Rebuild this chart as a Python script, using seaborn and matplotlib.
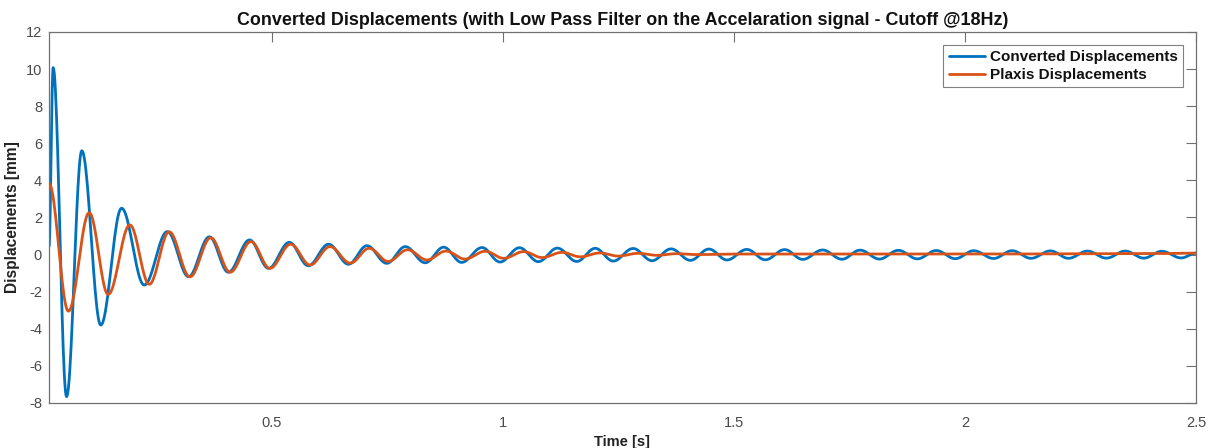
import numpy as np
import pandas as pd
import matplotlib
matplotlib.use("Agg")
import matplotlib.pyplot as plt
import seaborn as sns

# ---------------- data (extrema of each signal) ----------------
converted_t = [0.018, 0.027, 0.056, 0.089, 0.130, 0.175, 0.224, 0.274, 0.320, 0.365,
               0.406, 0.452, 0.493, 0.538, 0.579, 0.623, 0.666, 0.706, 0.749, 0.789,
               0.832, 0.872, 0.911, 0.955, 0.994, 1.036, 1.077, 1.118, 1.160, 1.200,
               1.239, 1.282, 1.323, 1.364, 1.406, 1.446, 1.485, 1.528, 1.568, 1.610,
               1.649, 1.692, 1.734, 1.773, 1.815, 1.856, 1.897, 1.938, 1.979, 2.019,
               2.062, 2.102, 2.143, 2.185, 2.224, 2.265, 2.306, 2.347, 2.387, 2.426,
               2.468, 2.500]
converted_v = [0.43, 10.08, -7.66, 5.60, -3.80, 2.50, -1.64, 1.24, -1.19, 0.96,
               -0.95, 0.79, -0.74, 0.66, -0.60, 0.56, -0.52, 0.48, -0.47, 0.43,
               -0.44, 0.40, -0.42, 0.38, -0.40, 0.37, -0.38, 0.35, -0.37, 0.34,
               -0.35, 0.33, -0.33, 0.31, -0.31, 0.30, -0.29, 0.28, -0.28, 0.27,
               -0.26, 0.25, -0.25, 0.24, -0.24, 0.23, -0.23, 0.22, -0.22, 0.21,
               -0.21, 0.21, -0.20, 0.20, -0.20, 0.19, -0.19, 0.19, -0.19, 0.18,
               -0.18, 0.08]

plaxis_t = [0.018, 0.060, 0.105, 0.146, 0.193, 0.235, 0.278, 0.323, 0.368, 0.410,
            0.455, 0.496, 0.541, 0.583, 0.626, 0.670, 0.711, 0.752, 0.794, 0.836,
            0.877, 0.918, 0.962, 1.002, 1.045, 1.085, 1.128, 1.168, 1.210, 1.250,
            1.293, 1.333, 1.376, 1.420, 1.500, 2.000, 2.400, 2.500]
plaxis_v = [3.84, -3.05, 2.26, -2.15, 1.60, -1.60, 1.23, -1.20, 0.91, -0.95,
            0.70, -0.74, 0.56, -0.56, 0.43, -0.46, 0.34, -0.37, 0.26, -0.29,
            0.19, -0.24, 0.18, -0.20, 0.16, -0.16, 0.12, -0.12, 0.09, -0.08,
            0.07, -0.04, 0.05, 0.00, 0.03, 0.03, 0.05, 0.08]

series_names = ["Converted Displacements", "Plaxis Displacements"]
x_ticks = [0.5, 1, 1.5, 2, 2.5]
x_tick_labels = ["0.5", "1", "1.5", "2", "2.5"]
y_ticks = [-8, -6, -4, -2, 0, 2, 4, 6, 8, 10, 12]
title = "Converted Displacements (with Low Pass Filter on the Accelaration signal - Cutoff @18Hz)"
x_label = "Time [s]"
y_label = "Displacements [mm]"


def smooth_between(ts, vs, n=24):
    """Render a smooth path through successive extrema (half-cosine shape per segment)."""
    out_t, out_v = [ts[0]], [vs[0]]
    for (t0, v0), (t1, v1) in zip(zip(ts[:-1], vs[:-1]), zip(ts[1:], vs[1:])):
        s = np.linspace(0, 1, n + 1)[1:]
        out_t.extend(t0 + s * (t1 - t0))
        out_v.extend(v0 + (v1 - v0) * (1 - np.cos(np.pi * s)) / 2)
    return out_t, out_v


frames = []
for name, ts, vs in [(series_names[0], converted_t, converted_v),
                     (series_names[1], plaxis_t, plaxis_v)]:
    tt, vv = smooth_between(ts, vs)
    frames.append(pd.DataFrame({"t": tt, "v": vv, "series": name}))
df = pd.concat(frames, ignore_index=True)

sns.set_style("white")
plt.rcParams["font.family"] = ["Liberation Sans", "DejaVu Sans"]
plt.rcParams["axes.unicode_minus"] = False

fig = plt.figure(figsize=(12.12, 4.48), dpi=100)
ax = fig.add_axes([49 / 1212, 1 - 403 / 448, (1196 - 49) / 1212, (403 - 32) / 448])

palette = {series_names[0]: "#0072BD", series_names[1]: "#D95319"}
sns.lineplot(data=df, x="t", y="v", hue="series", palette=palette, estimator=None,
             sort=False, linewidth=2.0, ax=ax)

ax.set_xlim(0.018, 2.5)
ax.set_ylim(-8, 12)
ax.set_xticks(x_ticks)
ax.set_xticklabels(x_tick_labels)
ax.set_yticks(y_ticks)

axis_col = "#707070"
for sp in ax.spines.values():
    sp.set_visible(True)
    sp.set_color(axis_col)
    sp.set_linewidth(0.9)
ax.tick_params(axis="both", direction="in", length=7, width=0.8, color=axis_col,
               labelcolor="#4a4a4a", labelsize=10.5, top=True, right=True, pad=5)
ax.tick_params(axis="x", pad=9)

ax.set_title(title, fontsize=12.9, fontweight="bold", color="#111111", pad=5)
ax.set_xlabel(x_label, fontsize=10.5, fontweight="bold", color="#222222", labelpad=4)
ax.set_ylabel(y_label, fontsize=11.2, fontweight="bold", color="#222222", labelpad=4)

leg = ax.legend(loc="upper right", fontsize=11, frameon=True, fancybox=False,
                framealpha=1, edgecolor="#808080", borderaxespad=0.85,
                handlelength=2.4, handletextpad=0.3, labelspacing=0.25,
                borderpad=0.35)
leg.get_frame().set_linewidth(0.8)
for txt in leg.get_texts():
    txt.set_fontweight("bold")
    txt.set_color("#111111")
for line in leg.get_lines():
    line.set_linewidth(2.0)

fig.savefig("out.png", dpi=100, facecolor="white")
